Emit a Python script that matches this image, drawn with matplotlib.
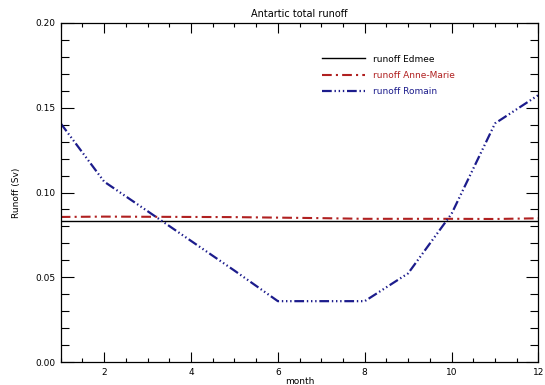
import matplotlib
matplotlib.use("Agg")
import matplotlib.pyplot as plt
from matplotlib.ticker import MultipleLocator, FormatStrFormatter
import numpy as np

months = [1, 2, 3, 4, 5, 6, 7, 8, 9, 10, 11, 12]
runoff_edmee = [0.0834] * 12
runoff_anne_marie = [0.0856, 0.0858, 0.0857, 0.0856, 0.0855, 0.0852,
                     0.0849, 0.0845, 0.0845, 0.0845, 0.0844, 0.0848]
runoff_romain = [0.1407, 0.1064, 0.0890, 0.0715, 0.0540, 0.0360,
                 0.0360, 0.0360, 0.0524, 0.0875, 0.1407, 0.1574]

red = '#b02020'
blue = '#1c1c8c'

plt.rcParams['font.family'] = 'DejaVu Sans'
plt.rcParams['lines.scale_dashes'] = False

fig = plt.figure(figsize=(5.45, 3.85), dpi=100)
ax = fig.add_axes([0.1114, 0.059, 0.988 - 0.1114, 0.941 - 0.059])

ax.plot(months, runoff_edmee, color='black', lw=1.0, label='runoff Edmee')
ax.plot(months, runoff_anne_marie, color=red, lw=1.5,
        dashes=(7, 3, 1.5, 3), label='runoff Anne-Marie')
ax.plot(months, runoff_romain, color=blue, lw=1.6,
        dashes=(7, 2, 1, 2, 1, 2, 1, 2), label='runoff Romain')

ax.set_xlim(1, 12)
ax.set_ylim(0, 0.2)
ax.xaxis.set_major_locator(MultipleLocator(2))
ax.xaxis.set_minor_locator(MultipleLocator(0.5))
ax.yaxis.set_major_locator(MultipleLocator(0.05))
ax.yaxis.set_minor_locator(MultipleLocator(0.01))
ax.yaxis.set_major_formatter(FormatStrFormatter('%.2f'))

ax.tick_params(axis='both', which='both', direction='in', top=True, right=True,
               labelsize=6.5, width=0.8)
ax.tick_params(axis='x', which='major', length=7, pad=4)
ax.tick_params(axis='x', which='minor', length=3)
ax.tick_params(axis='y', which='major', length=9, pad=4)
ax.tick_params(axis='y', which='minor', length=6)
for s in ax.spines.values():
    s.set_linewidth(0.9)

ax.set_title('Antartic total runoff', fontsize=7, pad=4)
ax.set_xlabel('month', fontsize=6.5, labelpad=0)
ax.set_ylabel('Runoff (Sv)', fontsize=6.5, labelpad=10)

leg = ax.legend(loc='upper left', bbox_to_anchor=(0.53, 0.93), frameon=False,
                fontsize=6.5, handlelength=4.8, handletextpad=0.8,
                labelspacing=0.8, labelcolor='linecolor')

fig.savefig('out.png', dpi=100)
